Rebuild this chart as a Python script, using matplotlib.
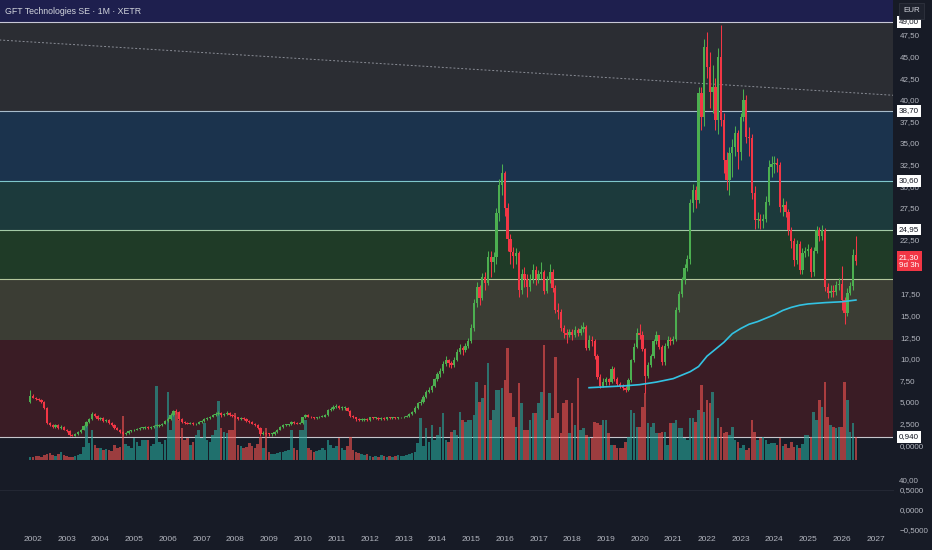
import matplotlib
matplotlib.use("Agg")
import matplotlib.pyplot as plt
import numpy as np

plt.rcParams['font.family'] = ['Liberation Sans', 'DejaVu Sans']

# monthly candles, Dec 2001 .. Jun 2026 (open = previous close)
first_open = 5.0
closes = [
    5.7,                                                              # 2001 Dec
    5.5, 5.3, 5.2, 5.0, 4.3, 2.6, 2.3, 2.1, 2.3, 2.0, 2.1, 1.8,       # 2002
    1.6, 1.2, 1.1, 1.3, 1.5, 1.8, 2.2, 2.7, 3.0, 3.6, 3.4, 3.0,       # 2003
    3.1, 2.8, 2.9, 2.6, 2.3, 2.0, 1.8, 1.5, 1.3, 1.4, 1.6, 1.7,       # 2004
    1.8, 1.9, 2.0, 2.0, 2.1, 2.0, 2.1, 2.2, 2.2, 2.3, 2.5, 2.8,       # 2005
    3.0, 3.5, 3.9, 3.8, 3.0, 2.7, 2.6, 2.5, 2.6, 2.4, 2.5, 2.7,       # 2006
    2.8, 3.0, 3.1, 3.3, 3.5, 3.6, 3.7, 3.5, 3.6, 3.7, 3.5, 3.4,       # 2007
    3.2, 3.0, 3.1, 3.0, 2.8, 2.7, 2.5, 2.3, 2.0, 1.3, 1.4, 1.3,       # 2008
    1.25, 1.3, 1.5, 1.8, 2.1, 2.3, 2.3, 2.4, 2.7, 2.6, 2.5, 2.6,      # 2009
    3.2, 3.5, 3.3, 3.2, 3.1, 3.2, 3.3, 3.3, 3.5, 4.1, 4.2, 4.4,       # 2010
    4.5, 4.3, 4.3, 4.3, 4.0, 3.4, 3.2, 3.0, 2.9, 2.9, 3.0, 2.9,       # 2011
    3.2, 3.1, 3.1, 3.0, 3.1, 3.0, 3.2, 3.1, 3.2, 3.1, 3.2, 3.2,       # 2012
    3.3, 3.4, 3.6, 3.8, 4.3, 4.9, 5.0, 5.6, 6.2, 6.4, 6.8, 7.6,       # 2013
    8.2, 8.6, 9.4, 9.8, 9.5, 9.3, 9.9, 10.8, 11.3, 11.0, 11.5, 12.0,  # 2014
    13.6, 16.5, 18.3, 17.0, 19.5, 18.8, 21.8, 21.2, 21.8, 26.9, 30.1, 31.5,  # 2015
    27.5, 23.9, 22.4, 21.9, 22.2, 18.0, 19.8, 19.2, 18.3, 19.2, 20.3, 19.2,  # 2016
    19.8, 20.0, 17.9, 19.1, 20.0, 18.2, 15.7, 15.4, 13.6, 13.0, 12.7, 13.1,  # 2017
    12.8, 13.3, 13.0, 13.5, 13.7, 11.3, 12.2, 12.0, 10.3, 7.9, 6.8, 7.3,     # 2018
    7.6, 7.3, 8.8, 7.7, 7.1, 6.9, 6.6, 6.4, 7.5, 9.8, 11.4, 13.0,            # 2019
    12.8, 11.1, 8.0, 9.3, 10.3, 12.0, 12.7, 11.4, 9.6, 11.5, 12.2, 12.1,     # 2020
    12.3, 15.7, 17.5, 19.1, 20.5, 21.5, 28.0, 29.6, 28.4, 40.8, 38.0, 46.1,  # 2021
    43.8, 40.9, 41.5, 37.7, 44.9, 37.7, 33.0, 30.7, 33.8, 34.5, 36.1, 33.9,  # 2022
    38.0, 40.0, 35.7, 35.6, 29.2, 26.1, 26.2, 26.0, 26.2, 28.2, 32.2, 32.6,  # 2023
    32.7, 32.4, 27.6, 27.8, 27.0, 24.9, 23.6, 21.4, 23.3, 20.3, 22.2, 22.5,  # 2024
    22.7, 20.0, 22.5, 24.9, 24.2, 24.9, 18.3, 17.6, 17.9, 17.7, 18.6, 18.7,  # 2025
    16.8, 15.3, 17.6, 18.4, 22.0, 21.3,                                      # 2026
]
highs = [
    6.4,
    5.9, 5.6, 5.4, 5.3, 5.1, 4.4, 2.7, 2.4, 2.4, 2.4, 2.3, 2.2,
    1.9, 1.7, 1.3, 1.4, 1.6, 1.9, 2.3, 2.8, 3.1, 3.8, 3.7, 3.5,
    3.3, 3.2, 3.0, 3.0, 2.7, 2.4, 2.1, 1.9, 1.6, 1.5, 1.7, 1.8,
    1.9, 2.0, 2.1, 2.1, 2.2, 2.2, 2.2, 2.3, 2.4, 2.4, 2.6, 2.9,
    3.2, 3.7, 4.1, 4.2, 3.9, 3.1, 2.8, 2.7, 2.7, 2.7, 2.6, 2.8,
    2.9, 3.1, 3.2, 3.4, 3.6, 3.8, 3.9, 3.8, 3.7, 3.9, 3.8, 3.6,
    3.5, 3.3, 3.2, 3.2, 3.1, 2.9, 2.8, 2.6, 2.4, 2.1, 1.6, 1.5,
    1.4, 1.4, 1.6, 1.9, 2.2, 2.4, 2.5, 2.5, 2.8, 2.8, 2.7, 2.7,
    3.3, 3.6, 3.6, 3.4, 3.3, 3.3, 3.4, 3.5, 3.6, 4.2, 4.4, 4.6,
    4.8, 4.6, 4.5, 4.5, 4.4, 4.1, 3.5, 3.3, 3.1, 3.1, 3.1, 3.1,
    3.3, 3.3, 3.2, 3.2, 3.2, 3.2, 3.3, 3.3, 3.3, 3.3, 3.3, 3.3,
    3.4, 3.5, 3.7, 3.9, 4.5, 5.0, 5.3, 5.8, 6.4, 6.7, 7.0, 7.8,
    8.5, 8.9, 9.7, 10.3, 10.0, 9.7, 10.2, 11.1, 11.7, 11.5, 11.8, 12.4,
    14.0, 16.9, 18.9, 18.6, 19.9, 20.0, 22.5, 22.5, 22.4, 27.5, 30.8, 32.5,
    31.8, 28.0, 24.5, 23.0, 22.8, 22.5, 20.4, 20.6, 19.8, 19.8, 21.0, 20.8,
    20.3, 21.2, 20.3, 19.6, 21.0, 20.4, 18.6, 16.5, 15.8, 13.9, 13.4, 13.5,
    13.4, 13.8, 13.6, 13.9, 14.2, 13.9, 12.8, 12.6, 12.3, 10.5, 8.2, 7.8,
    7.9, 7.8, 9.2, 9.0, 7.9, 7.3, 7.1, 6.8, 7.8, 10.0, 11.8, 13.6,
    14.0, 13.2, 11.3, 9.6, 10.6, 12.3, 13.2, 12.8, 11.6, 11.8, 12.6, 12.5,
    12.6, 16.0, 17.9, 19.5, 21.0, 22.0, 28.5, 30.2, 30.0, 41.5, 41.5, 47.0,
    47.8, 45.5, 44.0, 42.5, 46.0, 48.6, 38.5, 34.0, 34.5, 35.5, 37.0, 36.5,
    38.5, 41.2, 40.5, 36.8, 36.0, 30.0, 27.0, 26.8, 26.8, 28.8, 33.0, 33.5,
    33.5, 33.2, 32.8, 28.6, 28.3, 27.4, 25.3, 24.0, 23.8, 23.6, 22.8, 23.0,
    23.3, 23.0, 22.9, 25.4, 25.3, 25.5, 25.2, 18.8, 18.6, 18.5, 19.0, 19.3,
    20.8, 17.2, 18.2, 18.9, 22.7, 24.2,
]
lows = [
    4.9,
    5.4, 5.2, 5.1, 4.9, 4.2, 2.5, 2.2, 2.0, 2.0, 1.9, 1.9, 1.7,
    1.5, 1.1, 1.0, 1.0, 1.2, 1.4, 1.7, 2.1, 2.6, 2.9, 3.2, 2.9,
    2.9, 2.7, 2.7, 2.5, 2.2, 1.9, 1.7, 1.4, 1.2, 1.2, 1.3, 1.5,
    1.6, 1.7, 1.8, 1.9, 1.9, 1.9, 1.9, 2.0, 2.1, 2.1, 2.2, 2.4,
    2.7, 2.9, 3.4, 3.6, 2.9, 2.6, 2.5, 2.4, 2.4, 2.3, 2.3, 2.4,
    2.6, 2.7, 2.9, 3.0, 3.2, 3.4, 3.5, 3.3, 3.4, 3.5, 3.4, 3.3,
    3.1, 2.9, 2.9, 2.9, 2.7, 2.6, 2.4, 2.2, 1.9, 1.1, 1.2, 1.2,
    1.1, 1.1, 1.2, 1.4, 1.7, 2.0, 2.2, 2.2, 2.3, 2.5, 2.4, 2.4,
    2.5, 3.1, 3.2, 3.1, 3.0, 3.0, 3.1, 3.2, 3.2, 3.4, 4.0, 4.1,
    4.3, 4.2, 4.1, 4.1, 3.9, 3.3, 3.1, 2.8, 2.8, 2.8, 2.8, 2.8,
    2.8, 3.0, 3.0, 2.9, 2.9, 2.9, 2.9, 3.0, 3.0, 3.0, 3.0, 3.1,
    3.1, 3.2, 3.3, 3.5, 3.7, 4.2, 4.6, 4.9, 5.5, 6.0, 6.2, 6.7,
    7.4, 7.9, 8.4, 9.2, 9.0, 8.9, 9.1, 9.7, 10.5, 10.4, 10.8, 11.3,
    11.8, 13.2, 16.0, 16.2, 16.8, 18.0, 18.5, 19.5, 20.0, 21.0, 26.0, 29.0,
    26.5, 22.5, 21.0, 20.5, 21.0, 17.2, 17.5, 18.3, 17.2, 17.8, 18.8, 18.5,
    18.8, 19.2, 17.5, 17.6, 18.8, 17.7, 15.3, 14.6, 13.2, 12.4, 11.8, 12.5,
    12.2, 12.5, 12.6, 12.8, 13.1, 11.0, 11.0, 11.5, 10.0, 7.6, 6.6, 6.7,
    7.0, 7.0, 7.2, 7.4, 6.9, 6.6, 6.4, 6.1, 6.3, 7.3, 9.6, 11.2,
    12.3, 10.9, 6.0, 7.8, 9.0, 10.1, 11.7, 11.1, 9.3, 9.3, 11.2, 11.6,
    11.7, 12.1, 15.4, 17.2, 18.7, 20.2, 21.0, 27.0, 27.5, 28.0, 36.5, 37.0,
    42.5, 39.0, 38.5, 36.5, 36.0, 37.0, 31.5, 29.5, 29.0, 31.0, 33.5, 32.0,
    33.0, 37.5, 35.0, 33.5, 28.5, 25.0, 25.2, 25.0, 25.2, 25.8, 27.8, 31.0,
    31.5, 31.6, 27.0, 26.5, 26.4, 24.3, 22.8, 20.8, 21.0, 19.8, 19.8, 21.8,
    21.9, 19.5, 19.6, 22.2, 23.6, 23.8, 17.8, 17.0, 17.2, 17.2, 17.4, 18.0,
    15.6, 14.0, 15.0, 17.4, 18.0, 20.9,
]
volumes = [
    3,
    3, 4, 4, 3, 5, 6, 7, 5, 4, 6, 8, 5,
    4, 3, 3, 4, 5, 6, 13, 38, 17, 30, 15, 12,
    12, 10, 11, 10, 9, 15, 12, 13, 44, 16, 14, 12,
    22, 18, 14, 20, 20, 20, 14, 16, 74, 18, 16, 20,
    68, 30, 47, 48, 40, 32, 20, 22, 15, 18, 25, 30,
    22, 37, 20, 18, 25, 30, 59, 32, 28, 27, 30, 30,
    47, 15, 14, 12, 13, 17, 14, 12, 16, 23, 12, 32,
    8, 6, 6, 7, 8, 8, 9, 10, 30, 12, 10, 30,
    30, 40, 12, 10, 8, 9, 10, 12, 10, 20, 15, 12,
    14, 22, 12, 10, 14, 23, 10, 8, 7, 6, 5, 6,
    4, 3, 4, 3, 5, 4, 3, 4, 3, 4, 5, 4,
    4, 5, 6, 7, 8, 17, 42, 14, 32, 18, 35, 20,
    25, 33, 47, 20, 18, 28, 30, 25, 48, 40, 38, 40,
    40, 45, 78, 58, 62, 75, 97, 40, 50, 70, 70, 72,
    80, 112, 67, 43, 33, 77, 57, 30, 30, 40, 47, 47,
    57, 68, 115, 40, 67, 42, 103, 47, 27, 57, 60, 27,
    57, 35, 82, 30, 32, 25, 23, 22, 38, 37, 35, 40,
    40, 27, 15, 15, 12, 12, 12, 18, 23, 50, 47, 33,
    33, 53, 67, 37, 33, 37, 27, 27, 28, 28, 15, 37,
    37, 40, 32, 32, 22, 20, 42, 42, 38, 50, 75, 48,
    60, 57, 68, 23, 42, 33, 27, 28, 25, 33, 20, 18,
    12, 15, 10, 12, 40, 28, 20, 22, 23, 20, 16, 17,
    17, 15, 22, 14, 16, 12, 18, 13, 15, 12, 16, 25,
    25, 23, 48, 40, 60, 53, 78, 43, 35, 33, 32, 33,
    33, 78, 60, 28, 37, 23,
]

# 200-month moving average
ma_dates = [2018.5, 2019.0, 2019.5, 2020.0, 2020.5, 2021.0, 2021.5, 2021.75, 2022.0,
            2022.25, 2022.5, 2022.75, 2023.0, 2023.25, 2023.5, 2023.75, 2024.0,
            2024.25, 2024.5, 2024.75, 2025.0, 2025.5, 2026.0, 2026.42]
ma_values = [6.65, 6.75, 6.85, 7.0, 7.3, 7.7, 8.5, 9.1, 10.3,
             11.1, 11.9, 12.9, 13.5, 14.0, 14.3, 14.7, 15.1,
             15.6, 15.95, 16.2, 16.35, 16.5, 16.6, 16.8]

# long dotted trend line
trend_dates = [2001.0, 2027.6]
trend_prices = [46.92, 40.5]

# horizontal price zones (top edge -> bottom edge)
zone_edges = [60.0, 49.0, 38.7, 30.6, 24.95, 19.25, 12.2, 0.94]
zone_colors = ['#1e1f4e', '#2b2d33', '#1b334d', '#1c3a3c', '#1f3b27', '#3b3d34', '#3a1c25']
level_prices = [49.0, 38.7, 30.6, 24.95, 19.25, 0.94]
level_colors = ['#c8c8d6', '#a8bccb', '#7fc6cc', '#a3c9a6', '#b3c79c', '#c6c6cc']
boxed_levels = [49.0, 38.7, 30.6, 24.95, 0.94]
boxed_labels = ["49,00", "38,70", "30,60", "24,95", "0,940"]
last_label = "21,30\n9d 3h"

price_ticks = [47.5, 45.0, 42.5, 40.0, 37.5, 35.0, 32.5, 30.0, 27.5,
               17.5, 15.0, 12.5, 10.0, 7.5, 5.0, 2.5, 0.0]
price_tick_labels = ["47,50", "45,00", "42,50", "40,00", "37,50", "35,00", "32,50",
                     "30,00", "27,50", "17,50", "15,00", "12,50", "10,00",
                     "7,50", "5,000", "2,500", "0,0000"]
years = list(range(2002, 2028))

BG = '#171b26'
TXT = '#b2b5be'
UP = '#4caf50'
DOWN = '#f23645'

closes = np.array(closes)
opens = np.concatenate([[first_open], closes[:-1]])
highs = np.array(highs)
lows = np.array(lows)
volumes = np.array(volumes)
dates = 2001 + 11 / 12 + np.arange(len(closes)) / 12
up = closes >= opens

W, H = 932, 550
fig = plt.figure(figsize=(W / 100, H / 100), dpi=100, facecolor=BG)
rect = [0, 60 / H, 893 / W, 490 / H]

ax_bg = fig.add_axes(rect, facecolor=BG)
ax_vol = fig.add_axes(rect, sharex=ax_bg)
ax = fig.add_axes(rect, sharex=ax_bg)
ax_low = fig.add_axes([0, 20 / H, 893 / W, 40 / H], facecolor=BG, sharex=ax_bg)
for a in (ax_vol, ax):
    a.patch.set_visible(False)

xmin, xmax = 2001.02, 2027.52
ymin, ymax = -5.2, 51.55
ax_bg.set_xlim(xmin, xmax)
ax_bg.set_ylim(ymin, ymax)
ax.set_ylim(ymin, ymax)

# zones
for i, col in enumerate(zone_colors):
    ax_bg.axhspan(zone_edges[i + 1], zone_edges[i], color=col, lw=0)
for lvl, col in zip(level_prices, level_colors):
    ax_bg.axhline(lvl, color=col, lw=0.8)

# volume overlay (units = pixel height, base 30 px above pane bottom)
ax_vol.set_ylim(-30, 460)
vol_cols = np.where(up, '#26a69a', '#ef5350')
ax_vol.bar(dates, volumes, width=0.076, color=vol_cols, alpha=0.62, lw=0)

# candles
cols = np.where(up, UP, DOWN)
ax.vlines(dates, lows, highs, colors=cols, lw=0.75, zorder=2)
body = np.maximum(np.abs(closes - opens), 0.1)
ax.bar(dates, body, bottom=np.minimum(opens, closes), width=0.068, color=cols, lw=0, zorder=3)

ax.plot(ma_dates, ma_values, color='#33c3e3', lw=1.2, zorder=4)
ax.plot(trend_dates, trend_prices, color='#8a8d96', lw=0.7, ls=(0, (2, 2)), zorder=1)

for a in (ax_bg, ax_vol, ax, ax_low):
    for s in a.spines.values():
        s.set_visible(False)
    a.tick_params(bottom=False, labelbottom=False, left=False, labelleft=False)
ax_vol.set_yticks([])

ax.yaxis.tick_right()
ax.set_yticks(price_ticks)
ax.set_yticklabels(price_tick_labels)
ax.tick_params(axis='y', right=False, labelright=True, length=0, pad=5,
               labelsize=5.8, labelcolor=TXT)

# 22,50 is pushed up by the last-price tag, as on the source chart
ax.annotate("22,50", xy=(1, 22.5), xycoords=('axes fraction', 'data'),
            xytext=(5, 7.3), textcoords='offset points', ha='left', va='center',
            fontsize=5.8, color=TXT, annotation_clip=False)

for lvl, lbl in zip(boxed_levels, boxed_labels):
    ax.annotate(lbl, xy=(1, lvl), xycoords=('axes fraction', 'data'),
                xytext=(4.3, 0), textcoords='offset points', ha='left', va='center',
                fontsize=5.8, color='#131722', annotation_clip=False, zorder=10,
                bbox=dict(boxstyle='square,pad=0.28', fc='white', ec='none'))
ax.annotate(last_label, xy=(1, closes[-1]), xycoords=('axes fraction', 'data'),
            xytext=(4.3, 0), textcoords='offset points', ha='left', va='center',
            fontsize=5.8, color='white', linespacing=1.2, annotation_clip=False,
            zorder=10, bbox=dict(boxstyle='square,pad=0.3', fc='#f23645', ec='none'))

# lower empty pane
ax_low.set_ylim(-0.5, 0.5)
ax_low.spines['top'].set_visible(True)
ax_low.spines['top'].set_color('#232733')
ax_low.yaxis.tick_right()
ax_low.set_yticks([0.5, 0.0, -0.5])
ax_low.set_yticklabels(["0,5000", "0,0000", "\u22120,5000"])
ax_low.tick_params(axis='y', right=False, labelright=True, length=0, pad=5,
                   labelsize=5.8, labelcolor=TXT)
ax_low.set_xticks(years)
ax_low.set_xticklabels([str(y) for y in years])
ax_low.tick_params(axis='x', bottom=False, labelbottom=True, length=0, pad=4,
                   labelsize=6, labelcolor=TXT)
ax_low.set_xlim(xmin, xmax)

fig.text(899 / W, 1 - 481 / H, "40,00", fontsize=5.8, color=TXT, va='center')
fig.text(5 / W, 1 - 11 / H, "GFT Technologies SE \u00b7 1M \u00b7 XETR",
         fontsize=6.3, color='#d1d4dc', va='center')
fig.text(903 / W, 1 - 11 / H, "EUR", fontsize=5.8, color='#d1d4dc', va='center',
         bbox=dict(boxstyle='square,pad=0.5', fc='#1e222d', ec='#2f333e', lw=0.6))

fig.savefig("out.png", dpi=100, facecolor=BG)
